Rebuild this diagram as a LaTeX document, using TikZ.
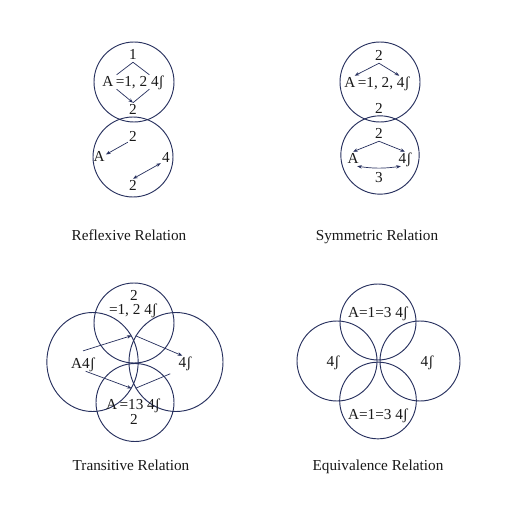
\documentclass[tikz,border=0pt]{standalone}
\usepackage{fontspec}
\setmainfont{Liberation Serif}
\usetikzlibrary{arrows.meta,shapes.geometric}
\definecolor{ringblue}{HTML}{27305E}

\begin{document}
\begin{tikzpicture}[x=0.03cm, y=-0.03cm,
    ring/.style={draw=ringblue, line width=0.8pt, circle, inner sep=0pt,
                 minimum size=#1},
    oval/.style 2 args={draw=ringblue, line width=0.8pt, ellipse, inner sep=0pt,
                 minimum width=#1, minimum height=#2},
    lbl/.style={font=\fontsize{13}{15}\selectfont, text=black!90, inner sep=1pt,
                text height=9pt, text depth=1pt},
    tight/.style={lbl, inner sep=0pt, text height=7.5pt, text depth=0pt},
    title/.style={font=\fontsize{13}{15}\selectfont, text=black!90, anchor=base},
    link/.style={ringblue, line width=0.6pt},
    flow/.style={link, -{Stealth[length=4pt,width=3pt]}},
    twoway/.style={link, {Stealth[length=4pt,width=3pt]}-{Stealth[length=4pt,width=3pt]}}]
  \fill[white] (0,0) rectangle (512,512);
  \useasboundingbox (0,0) rectangle (512,512);

  \node[ring=2.4cm] (c1top) at (134,82) {};
  \node[ring=2.4cm] (c1bot) at (133,157) {};
  \node[lbl] (t1one) at (133,55) {1};
  \node[lbl] (t1set) at (133,82) {A\,=1, 2 4ʃ};
  \node[lbl] (t1two) at (133,110) {2};
  \node[lbl] (t1up) at (133,137) {2};
  \node[lbl] (t1a) at (99,157) {A};
  \node[lbl] (t1four) at (166,158) {4};
  \node[lbl] (t1low) at (133,186) {2};
  \draw[link] (t1one.south) -- (t1set.156);
  \draw[link] (t1one.south) -- (t1set.24);
  \draw[flow] (t1set.204) -- (t1two.north);
  \draw[link] (t1set.-24) -- (t1two.north);
  \draw[flow] (t1up.225) -- (t1a.20);
  \draw[twoway] (t1four.225) -- (t1low.north);

  \node[ring=2.4cm] (c2top) at (380,82) {};
  \node[ring=2.35cm] (c2bot) at (380,155) {};
  \node[lbl] (t2one) at (379,56) {2};
  \node[lbl] (t2set) at (377,83) {A\,=1, 2, 4ʃ};
  \node[lbl] (t2mid) at (379,109) {2};
  \node[lbl] (t2up) at (379,134) {2};
  \node[lbl] (t2a) at (353,159) {A};
  \node[lbl] (t2four) at (405,159) {4ʃ};
  \node[lbl] (t2low) at (379,178) {3};
  \draw[flow] (t2one.south) -- (t2set.162);
  \draw[flow] (t2one.south) -- (t2set.18);
  \draw[flow] (t2up.south) -- (t2a.north);
  \draw[flow] (t2up.south) -- (t2four.north);
  \draw[twoway] (t2a.-60) to[bend right=8] (t2four.240);

  \node[ring=2.4cm] (c3top) at (134,323) {};
  \node[oval={2.74cm}{2.97cm}] (c3left) at (92.5,362) {};
  \node[oval={2.82cm}{2.97cm}] (c3right) at (176,362) {};
  \node[ring=2.34cm] (c3bot) at (135,402.5) {};
  \node[tight] (t3one) at (134,296) {2};
  \node[tight] (t3set) at (133,310.5) {=1, 2 4ʃ};
  \node[lbl] (t3a) at (83,364) {A4ʃ};
  \node[lbl] (t3four) at (185,363) {4ʃ};
  \node[tight] (t3low) at (133,405.5) {A\,=13 4ʃ};
  \node[tight] (t3two) at (134,420) {2};
  \draw[flow] ([yshift=5pt]t3a.north) -- (c3left.34);
  \draw[flow] (c3right.147) -- (t3four.110);
  \draw[flow] (t3a.-70) -- (c3left.-34);
  \draw[link] (c3right.213) -- ([shift={(-6pt,-3pt)}]t3four.south west);

  \node[ring=2.28cm] (c4top) at (378,322) {};
  \node[ring=2.4cm] (c4left) at (337,361) {};
  \node[ring=2.4cm] (c4right) at (420,361) {};
  \node[ring=2.3cm] (c4bot) at (378,400.5) {};
  \node[lbl] (t4top) at (378,313) {A=1=3 4ʃ};
  \node[lbl] (t4left) at (333,362) {4ʃ};
  \node[lbl] (t4right) at (427,362) {4ʃ};
  \node[lbl] (t4bot) at (378,415) {A=1=3 4ʃ};

  \node[title] (n1) at (129,240) {Reflexive Relation};
  \node[title] (n2) at (377,240) {Symmetric Relation};
  \node[title] (n3) at (131,470) {Transitive Relation};
  \node[title] (n4) at (378,470) {Equivalence Relation};
\end{tikzpicture}
\end{document}
